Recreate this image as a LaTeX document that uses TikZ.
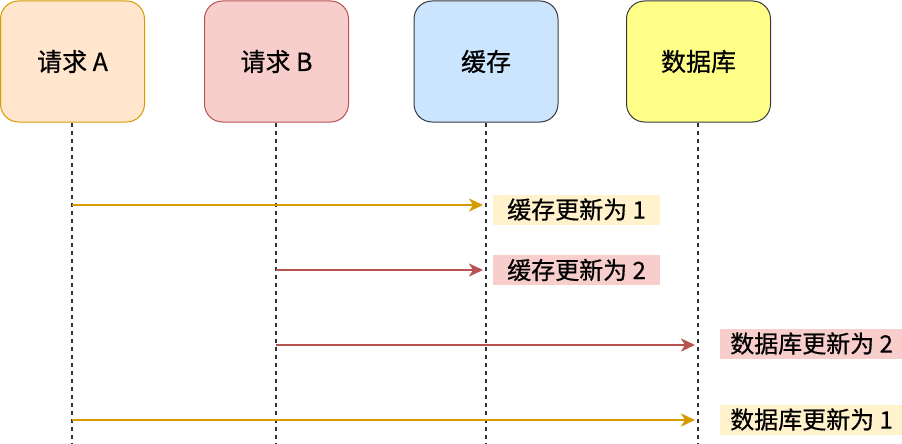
\documentclass[tikz,border=0pt]{standalone}
\usepackage{fontspec}
\setmainfont{Noto Sans CJK SC}[FakeBold=0.6]
\usetikzlibrary{arrows.meta}
\definecolor{aFill}{HTML}{FFE6CC}
\definecolor{aLine}{HTML}{D79B00}
\definecolor{bFill}{HTML}{F8CECC}
\definecolor{bLine}{HTML}{B85450}
\definecolor{cFill}{HTML}{CCE5FF}
\definecolor{dFill}{HTML}{FFFF88}
\definecolor{grayLine}{HTML}{36393D}
\definecolor{lblA}{HTML}{FFF2CC}
\begin{document}
\begin{tikzpicture}[x=1pt,y=-1pt,
  actor/.style={rounded corners=18pt, line width=1pt, minimum width=144pt, minimum height=121pt,
    inner sep=0pt, font=\fontsize{25}{29}\selectfont, text=black},
  lifeline/.style={draw=black!80, line width=1.2pt, dash pattern=on 4pt off 4pt},
  msg/.style={line width=2.6pt, -{Stealth[length=14pt,width=13pt,inset=4pt]}, shorten >=3pt},
  lbl/.style={inner xsep=14pt, inner ysep=0pt, minimum height=30pt, font=\fontsize{24}{28}\selectfont, text=black, anchor=west}]
\useasboundingbox (0,0) rectangle (902,444);
\node[actor, fill=aFill, draw=aLine] (A) at (72.5,61.5) {请求 A};
\node[actor, fill=bFill, draw=bLine] (B) at (276.5,61.5) {请求 B};
\node[actor, fill=cFill, draw=grayLine] (C) at (486,61.5) {缓存};
\node[actor, fill=dFill, draw=grayLine] (D) at (698.5,61.5) {数据库};
% lifeline ends
\coordinate (Ae) at (72,444);
\coordinate (Be) at (276,444);
\coordinate (Ce) at (486,444);
\coordinate (De) at (698,444);
\draw[lifeline] (A.south -| Ae) -- (Ae);
\draw[lifeline] (B.south -| Be) -- (Be);
\draw[lifeline] (C.south -| Ce) -- (Ce);
\draw[lifeline] (D.south -| De) -- (De);
% message points
\coordinate (m1s) at (72,205);  \coordinate (m1e) at (486,205);
\coordinate (m2s) at (276,270); \coordinate (m2e) at (486,270);
\coordinate (m3s) at (276,345); \coordinate (m3e) at (698,345);
\coordinate (m4s) at (72,420);  \coordinate (m4e) at (698,420);
\draw[msg, draw=aLine, fill=aLine] (m1s) -- (m1e);
\draw[msg, draw=bLine, fill=bLine] (m2s) -- (m2e);
\draw[msg, draw=bLine, fill=bLine] (m3s) -- (m3e);
\draw[msg, draw=aLine, fill=aLine] (m4s) -- (m4e);
% labels
\node[lbl, fill=lblA] (L1) at (493,209.5) {缓存更新为 1};
\node[lbl, fill=bFill] (L2) at (493,270) {缓存更新为 2};
\node[lbl, fill=bFill, inner xsep=10pt] (L3) at (720,343.5) {数据库更新为 2};
\node[lbl, fill=lblA, inner xsep=10pt] (L4) at (720,419.5) {数据库更新为 1};
\end{tikzpicture}
\end{document}
